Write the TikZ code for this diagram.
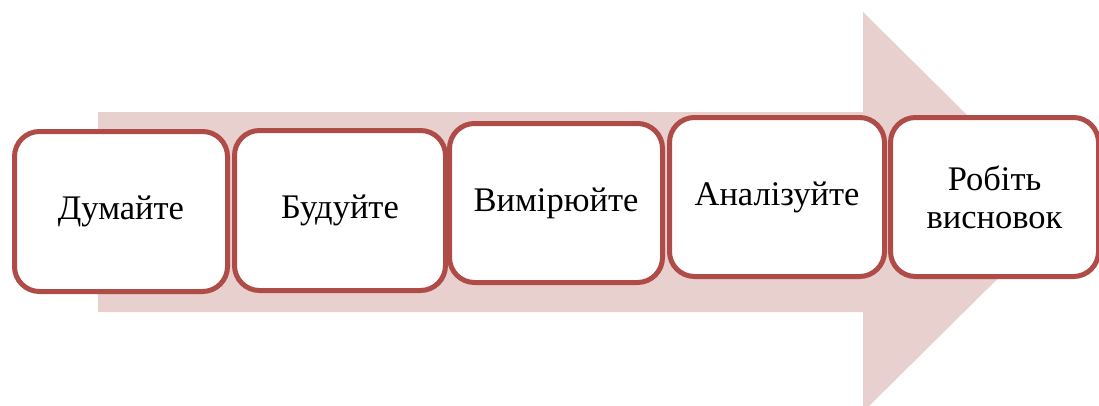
\documentclass[tikz,border=0pt]{standalone}
\usepackage{fontspec}
\setmainfont{Liberation Serif}
\definecolor{boxred}{RGB}{176,76,72}
\definecolor{arrowpink}{RGB}{232,208,207}
\begin{document}
\begin{tikzpicture}[x=1pt,y=-1pt,
  stepbox/.style={draw=boxred, line width=5pt, fill=white, rounded corners=25pt,
    minimum width=#1, inner sep=0pt, align=center,
    font=\fontsize{34.5}{38}\selectfont},
  stepbox/.default=213pt]
\useasboundingbox (0,0) rectangle (1099,405);
\clip (0,0) rectangle (1099,405);
% big background arrow
\fill[arrowpink] (98,112) -- (863,112) -- (863,12) -- (1065,212) -- (863,412) -- (863,312) -- (98,312) -- cycle;
% boxes
\node[stepbox=213pt, minimum height=160pt] (b1) at (121,211.5) {Думайте};
\node[stepbox=211pt, minimum height=160pt] (b2) at (340,210.5) {Будуйте};
\node[stepbox=213pt, minimum height=159pt] (b3) at (556,203) {Вимірюйте};
\node[stepbox=215pt, minimum height=159pt] (b4) at (777,197) {Аналізуйте};
\node[stepbox=208pt, minimum height=159pt] (b5) at (994.5,197) {Робіть\\висновок};
\end{tikzpicture}
\end{document}
